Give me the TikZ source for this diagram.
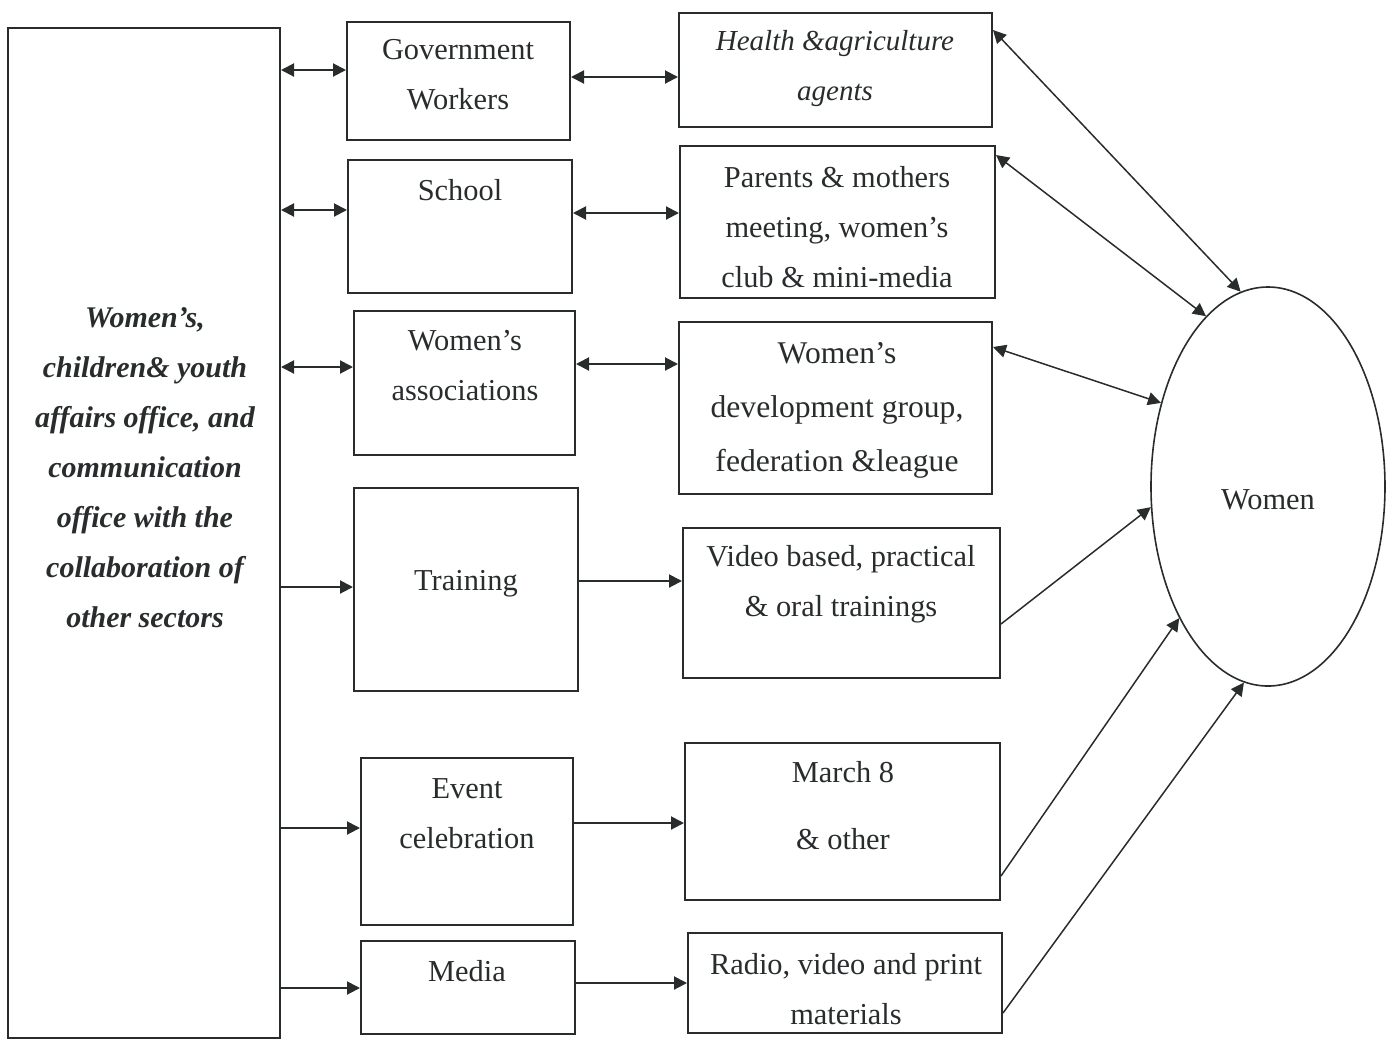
\documentclass[tikz,border=0pt]{standalone}
\usepackage{fontspec}
\setmainfont{Liberation Serif}
\usetikzlibrary{arrows.meta,shapes.geometric}
\definecolor{inkc}{RGB}{40,44,44}
\begin{document}
\begin{tikzpicture}[x=0.5pt,y=-0.5pt,
  box/.style={draw=inkc, line width=1pt, rectangle, inner sep=0pt},
  oval/.style={draw=inkc, line width=0.8pt, ellipse, inner sep=0pt},
  txt/.style={align=center, inner sep=0pt, text=inkc, font=\fontsize{15.2}{25}\selectfont},
  itxt/.style={txt, font=\fontsize{14.5}{25}\selectfont\itshape},
  btxt/.style={txt, font=\fontsize{15}{25}\selectfont\bfseries\itshape},
  tip/.tip={Triangle[length=6.5pt,width=6.5pt]},
  dbl/.style={draw=inkc, line width=1pt, {tip}-{tip}},
  sgl/.style={draw=inkc, line width=1pt, -{tip}},
  ddbl/.style={draw=inkc, line width=0.75pt, {tip}-{tip}},
  dsgl/.style={draw=inkc, line width=0.75pt, -{tip}}]
\useasboundingbox (0,0) rectangle (1394,1041);

% boxes
\node[box, minimum width=136pt, minimum height=505pt] (left) at (144,533) {};
\node[box, minimum width=111.5pt, minimum height=59pt] (gov) at (458.5,81) {};
\node[box, minimum width=112pt, minimum height=66.5pt] (school) at (460,226.5) {};
\node[box, minimum width=110.5pt, minimum height=72pt] (wa) at (464.5,383) {};
\node[box, minimum width=112pt, minimum height=101.5pt] (train) at (466,589.5) {};
\node[box, minimum width=106pt, minimum height=83.5pt] (event) at (467,841.5) {};
\node[box, minimum width=107pt, minimum height=46.5pt] (media) at (468,987.5) {};
\node[box, minimum width=156.5pt, minimum height=57pt] (health) at (835.5,70) {};
\node[box, minimum width=157.5pt, minimum height=76pt] (parents) at (837.5,222) {};
\node[box, minimum width=156.5pt, minimum height=86pt] (wdev) at (835.5,408) {};
\node[box, minimum width=158.5pt, minimum height=75pt] (video) at (841.5,603) {};
\node[box, minimum width=157.5pt, minimum height=78.5pt] (march) at (842.5,821.5) {};
\node[box, minimum width=157pt, minimum height=50pt] (radio) at (845,983) {};
\node[oval, minimum width=117pt, minimum height=199.5pt] (women) at (1268,486.5) {};

% texts
\node[btxt] (leftT) at (145,468) {Women’s,\\children\& youth\\affairs office, and\\communication\\office with the\\collaboration of\\other sectors};
\node[txt] (govT) at (458,75) {Government\\Workers};
\node[txt] (schoolT) at (460,190) {School};
\node[txt] (waT) at (465,366) {Women’s\\associations};
\node[txt] (trainT) at (466,584) {Training};
\node[txt] (eventT) at (467,814) {Event\\celebration};
\node[txt] (mediaT) at (467,971) {Media};
\node[itxt] (healthT) at (835,69) {Health \&agriculture\\agents};
\node[txt] (parentsT) at (837,227) {Parents \& mothers\\meeting, women’s\\club \& mini-media};
\node[txt, font=\fontsize{15.8}{27}\selectfont] (wdevT) at (837,410) {Women’s\\development group,\\federation \&league};
\node[txt] (videoT) at (841,584) {Video based, practical\\\& oral trainings};
\node[txt] (marchT) at (843,806) {March 8\\[8.5pt]\& other};
\node[txt] (radioT) at (846,989) {Radio, video and print\\materials};
\node[txt] (womenT) at (1268,500) {Women};

% left column connectors
\draw[dbl] (left.east |- 0,70) -- (gov.west |- 0,70);
\draw[dbl] (left.east |- 0,210) -- (school.west |- 0,210);
\draw[dbl] (left.east |- 0,367) -- (wa.west |- 0,367);
\draw[sgl] (left.east |- 0,587) -- (train.west |- 0,587);
\draw[sgl] (left.east |- 0,828) -- (event.west |- 0,828);
\draw[sgl] (left.east |- 0,988) -- (media.west |- 0,988);

% middle connectors
\draw[dbl] (gov.east |- 0,77) -- (health.west |- 0,77);
\draw[dbl] (school.east |- 0,213) -- (parents.west |- 0,213);
\draw[dbl] (wa.east |- 0,364) -- (wdev.west |- 0,364);
\draw[sgl] (train.east |- 0,581) -- (video.west |- 0,581);
\draw[sgl] (event.east |- 0,823) -- (march.west |- 0,823);
\draw[sgl] (media.east |- 0,983) -- (radio.west |- 0,983);

% connectors to Women
\draw[ddbl] (health.east |- 0,30) -- (women.98);
\draw[ddbl] (parents.east |- 0,155) -- (women.110);
\draw[ddbl] (wdev.east |- 0,347) -- (women.142);
\draw[dsgl] (video.east |- 0,624) -- (women.190);
\draw[dsgl] (march.east |- 0,876) -- (women.236);
\draw[dsgl] (radio.east |- 0,1013) -- (women.263);
\end{tikzpicture}
\end{document}
